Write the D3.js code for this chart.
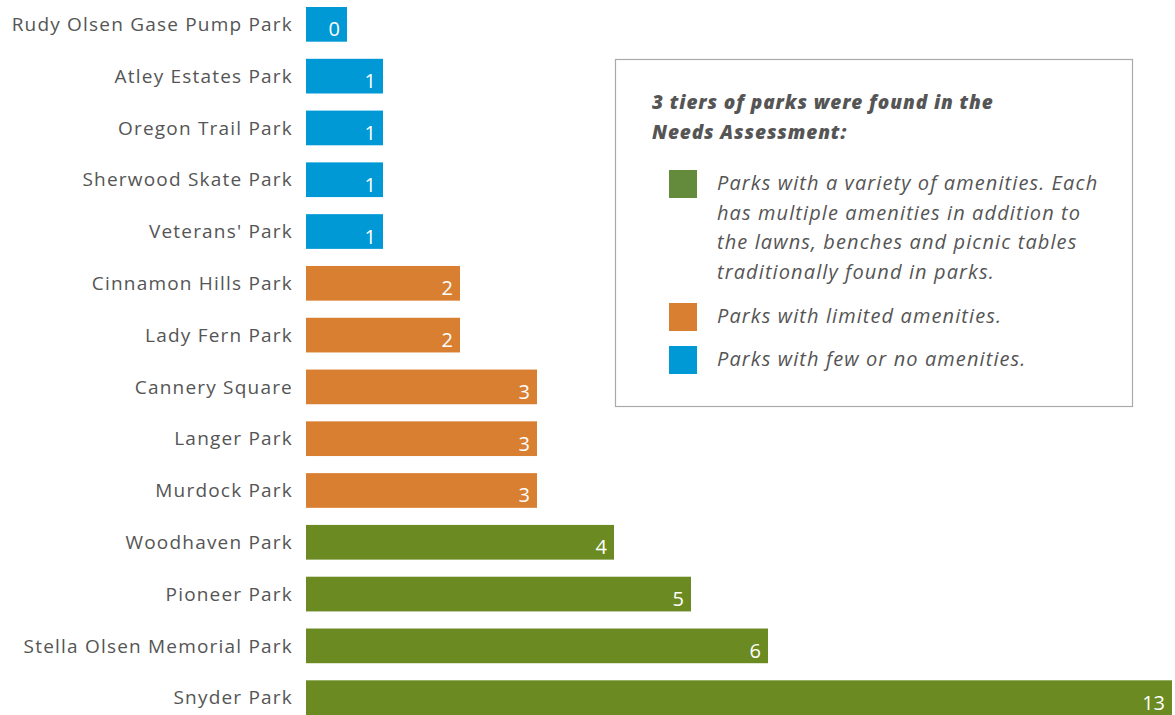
<!DOCTYPE html>
<html>
<head>
<meta charset="utf-8">
<script src="https://cdn.jsdelivr.net/npm/d3@7"></script>
<style>
  body { margin: 0; background: #fff; }
  text { font-family: "Open Sans", sans-serif; }
</style>
</head>
<body>
<script>
// park names, top to bottom
const parks = [
    "Rudy Olsen Gase Pump Park", "Atley Estates Park", "Oregon Trail Park",
    "Sherwood Skate Park", "Veterans' Park", "Cinnamon Hills Park",
    "Lady Fern Park", "Cannery Square", "Langer Park", "Murdock Park",
    "Woodhaven Park", "Pioneer Park", "Stella Olsen Memorial Park", "Snyder Park"
];
// number of amenities per park
const amenities = [0, 1, 1, 1, 1, 2, 2, 3, 3, 3, 4, 5, 6, 13];
// tier of each park
const tiers = ["few", "few", "few", "few", "few", "limited", "limited",
    "limited", "limited", "limited", "variety", "variety", "variety", "variety"];

const tierKeys = ["variety", "limited", "few"];
const tierColors = ["#6b8a22", "#d97f32", "#0099d6"];
const legendColors = ["#648b3c", "#d97f32", "#0099d6"];
const legendTitle = ["3 tiers of parks were found in the", "Needs Assessment:"];
const legendText = [
    ["Parks with a variety of amenities. Each", "has multiple amenities in addition to",
     "the lawns, benches and picnic tables", "traditionally found in parks."],
    ["Parks with limited amenities."],
    ["Parks with few or no amenities."]
];

const width = 1175, height = 715;
const left = 306, right = 1172;

let data = parks.map((p, i) => ({ name: p, value: amenities[i], tier: tiers[i] }));

let svg = d3.select("body").append("svg")
    .attr("width", width)
    .attr("height", height);

let x = d3.scaleLinear().domain([0, 1]).range([left, left + 77]);
let y = d3.scaleBand().domain(parks).range([7, 715]).paddingInner(0.33).paddingOuter(0);
let color = d3.scaleOrdinal().domain(tierKeys).range(tierColors);

// bar end: zero bars keep a small stub, long bars stop at the edge
let barEnd = d => Math.min(Math.max(x(d.value), x(0) + 41), right);

svg.selectAll("rect.bar")
    .data(data)
    .enter()
    .append("rect")
    .attr("class", "bar")
    .attr("x", x(0))
    .attr("y", d => y(d.name))
    .attr("width", d => barEnd(d) - x(0))
    .attr("height", y.bandwidth())
    .attr("fill", d => color(d.tier));

svg.selectAll("text.value")
    .data(data)
    .enter()
    .append("text")
    .attr("class", "value")
    .attr("x", d => barEnd(d) - 7)
    .attr("y", d => y(d.name) + y.bandwidth() / 2)
    .attr("dy", "0.6em")
    .attr("text-anchor", "end")
    .attr("fill", "#fff")
    .attr("font-size", 20)
    .text(d => d.value);

let axis = d3.axisLeft(y).tickSize(0).tickPadding(13);
let axisG = svg.append("g")
    .attr("transform", `translate(${x(0)},0)`)
    .call(axis);
axisG.select(".domain").remove();
axisG.selectAll("text")
    .attr("fill", "#555")
    .attr("font-size", 19)
    .attr("letter-spacing", 1.2)
    .attr("dy", "0.35em")
    .style("font-family", "'Open Sans', sans-serif");

// legend box
let legend = svg.append("g");
legend.append("rect")
    .attr("x", 615.5).attr("y", 59.5)
    .attr("width", 517).attr("height", 347)
    .attr("fill", "#fff")
    .attr("stroke", "#aaa")
    .attr("stroke-width", 1.2);

legend.selectAll("text.title")
    .data(legendTitle)
    .enter()
    .append("text")
    .attr("class", "title")
    .attr("x", 652)
    .attr("y", (d, i) => 109 + i * 29.5)
    .attr("fill", "#555")
    .attr("font-size", 19)
    .attr("letter-spacing", 0.9)
    .attr("font-weight", 800)
    .attr("font-style", "italic")
    .text(d => d);

const itemTop = [170, 303, 346];
let items = legend.selectAll("g.item")
    .data(tierKeys)
    .enter()
    .append("g")
    .attr("class", "item")
    .attr("transform", (d, i) => `translate(0,${itemTop[i]})`);

items.append("rect")
    .attr("x", 669).attr("y", 0)
    .attr("width", 28).attr("height", 28)
    .attr("fill", (d, i) => legendColors[i]);

items.each(function (d, i) {
    d3.select(this).selectAll("text")
        .data(legendText[i])
        .enter()
        .append("text")
        .attr("x", 717)
        .attr("y", (t, j) => 20 + j * 29.5)
        .attr("fill", "#555")
        .attr("font-size", 20)
        .attr("letter-spacing", 1.1)
        .attr("font-style", "italic")
        .text(t => t);
});
</script>
</body>
</html>
